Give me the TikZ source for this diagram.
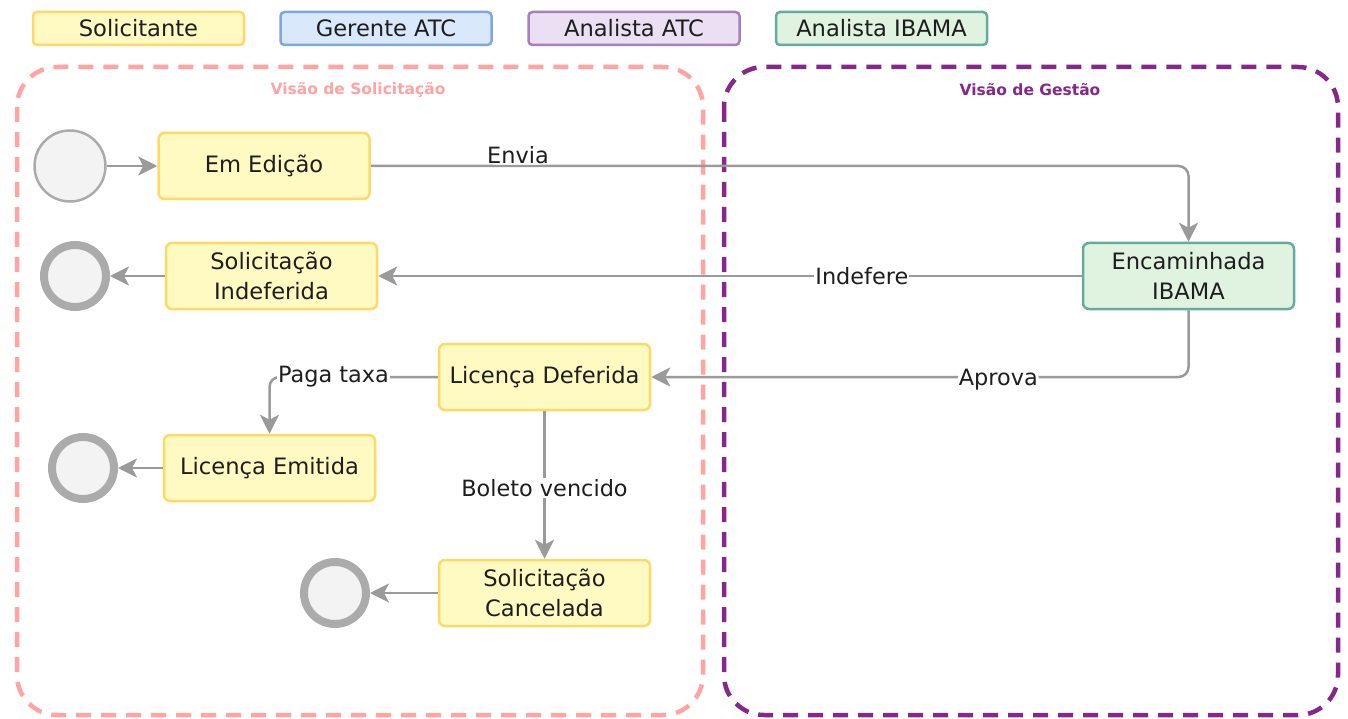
\documentclass[tikz,border=0pt]{standalone}
\usepackage{fontspec}
\setmainfont{DejaVu Sans}
\usetikzlibrary{arrows.meta}
\definecolor{yfill}{HTML}{FFF9C2}
\definecolor{ydraw}{HTML}{FFD966}
\definecolor{bfill}{HTML}{DAE8FC}
\definecolor{bdraw}{HTML}{7EA6E0}
\definecolor{pfill}{HTML}{EBE0F3}
\definecolor{pdraw}{HTML}{A680B8}
\definecolor{gfill}{HTML}{E0F2E0}
\definecolor{gdraw}{HTML}{67AB9F}
\definecolor{edgegray}{HTML}{9A9A9A}
\definecolor{circgray}{HTML}{ABABAB}
\definecolor{circfill}{HTML}{F3F3F3}
\definecolor{pinkbox}{HTML}{FFA3A3}
\definecolor{purplebox}{HTML}{86288A}
\definecolor{txt}{HTML}{1E1E1E}
\tikzset{
  base/.style={rectangle, rounded corners=6pt, line width=2.5pt, minimum width=211pt, minimum height=66pt, align=center, text=txt, inner sep=2pt, font=\fontsize{22.6}{29.5}\selectfont},
  ybox/.style={base, fill=yfill, draw=ydraw},
  gbox/.style={base, fill=gfill, draw=gdraw},
  legend/.style={rectangle, rounded corners=4pt, line width=2.5pt, minimum width=211pt, minimum height=33pt, text=txt, inner sep=0pt, font=\fontsize{22.6}{27}\selectfont},
  startc/.style={circle, minimum size=71pt, inner sep=0pt, fill=circfill, draw=circgray, line width=2.5pt},
  endc/.style={circle, minimum size=62pt, inner sep=0pt, fill=circfill, draw=circgray, line width=8pt},
  conn/.style={draw=edgegray, line width=2.5pt, -{Stealth[length=19pt,width=19pt,inset=5pt]}},
  lbl/.style={fill=white, inner sep=1pt, text=txt, font=\fontsize{22.4}{27}\selectfont},
  container/.style={line width=4.5pt, rounded corners=40pt, dash pattern=on 15pt off 10pt},
  ctitle/.style={font=\bfseries\fontsize{15.5}{18}\selectfont}
}
\begin{document}
\begin{tikzpicture}[x=1pt,y=-1pt]
\fill[white] (0,0) rectangle (1348,719);
\useasboundingbox (0,0) rectangle (1348,719);

% containers
\draw[container, draw=pinkbox] (17,67) rectangle (703,715);
\draw[container, draw=purplebox] (724,67) rectangle (1338,715);
\node[ctitle, text=pinkbox] (t1) at (358,90) {Visão de Solicitação};
\node[ctitle, text=purplebox] (t2) at (1030,90) {Visão de Gestão};

% legend
\node[legend, fill=yfill, draw=ydraw] (l1) at (138.5,28.5) {Solicitante};
\node[legend, fill=bfill, draw=bdraw] (l2) at (386,28.5) {Gerente ATC};
\node[legend, fill=pfill, draw=pdraw] (l3) at (634,28.5) {Analista ATC};
\node[legend, fill=gfill, draw=gdraw] (l4) at (881.5,28.5) {Analista IBAMA};

% nodes
\node[startc] (start) at (70,166) {};
\node[ybox] (edit) at (264,166) {Em Edição};
\node[ybox] (indef) at (271.5,276) {Solicitação\\Indeferida};
\node[endc] (end1) at (75,276) {};
\node[gbox] (enc) at (1188.5,276) {Encaminhada\\IBAMA};
\node[ybox] (def) at (544.5,377) {Licença Deferida};
\node[ybox] (emit) at (269.5,468) {Licença Emitida};
\node[endc] (end2) at (83,468) {};
\node[ybox] (canc) at (544.5,593) {Solicitação\\Cancelada};
\node[endc] (end3) at (335,593) {};

% connectors
\draw[conn] (start) -- (edit);
\draw[conn, rounded corners=10pt] (edit.east) -| (enc.north)
  node[lbl, pos=0.09, anchor=south, inner sep=0.5pt] {Envia};
\draw[conn] (enc.west) -- (indef.east)
  node[lbl, pos=0.3125] {Indefere};
\draw[conn, rounded corners=10pt] (enc.south) |- (def.east)
  node[lbl, pos=0.677, yshift=-3pt] {Aprova};
\draw[conn, rounded corners=10pt] (def.west) -| (emit.north)
  node[lbl, pos=0.31] {Paga taxa};
\draw[conn] (def.south) -- (canc.north)
  node[lbl, pos=0.52] {Boleto vencido};
\draw[conn] (indef) -- (end1);
\draw[conn] (emit) -- (end2);
\draw[conn] (canc) -- (end3);
\end{tikzpicture}
\end{document}
